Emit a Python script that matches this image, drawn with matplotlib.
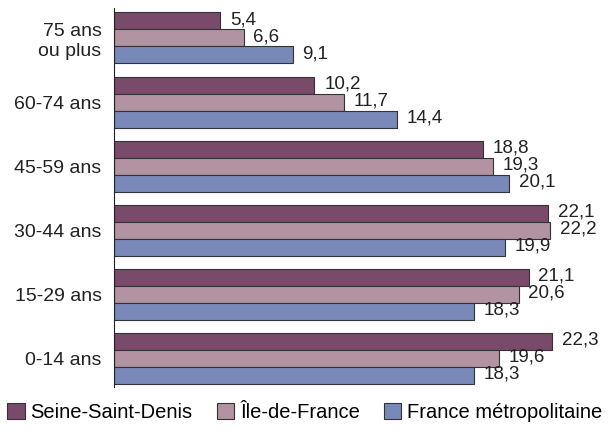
import matplotlib.pyplot as plt
import numpy as np

plt.rcParams['font.family'] = ['Liberation Sans', 'DejaVu Sans']

categories = ["0-14 ans", "15-29 ans", "30-44 ans", "45-59 ans", "60-74 ans", "75 ans\nou plus"]
seine_saint_denis = [22.3, 21.1, 22.1, 18.8, 10.2, 5.4]
ile_de_france = [19.6, 20.6, 22.2, 19.3, 11.7, 6.6]
france_metro = [18.3, 18.3, 19.9, 20.1, 14.4, 9.1]

series = [("Seine-Saint-Denis", seine_saint_denis, "#7a4a6b"),
          ("Île-de-France", ile_de_france, "#b193a1"),
          ("France métropolitaine", france_metro, "#7888b8")]

fig = plt.figure(figsize=(6.1, 4.36), dpi=100)
ax = fig.add_axes([0.187, 0.112, 0.805, 0.87])

y = np.arange(len(categories))
h = 0.265
for i, (name, vals, col) in enumerate(series):
    pos = y + (1 - i) * h
    ax.barh(pos, vals, height=h, color=col, edgecolor="#333333",
            linewidth=0.8, label=name)
    for p, v in zip(pos, vals):
        ax.annotate(f"{v:.1f}".replace(".", ","), (v, p), xytext=(7, 1),
                    textcoords="offset points", va="center", ha="left",
                    fontsize=13.5, color="#222222")

ax.set_xlim(0, 25)
ax.set_ylim(-0.45, 5.47)
ax.set_yticks(y)
ax.set_yticklabels(categories, fontsize=14, color="#222222")
ax.tick_params(axis="y", length=0, pad=9)
ax.set_xticks([])
for s in ["top", "right", "bottom"]:
    ax.spines[s].set_visible(False)
ax.spines["left"].set_color("#222222")

fig.text(0.53, 1.035, "(en %)", ha="center", va="center", fontsize=13, color="#222222")

fig.legend(loc="lower center", bbox_to_anchor=(0.5, 0.0), ncol=3, frameon=False,
           fontsize=14.5, handlelength=0.85, handleheight=0.85, handletextpad=0.3,
           columnspacing=1.2, borderaxespad=0.3)

fig.savefig("out.png", dpi=100)
